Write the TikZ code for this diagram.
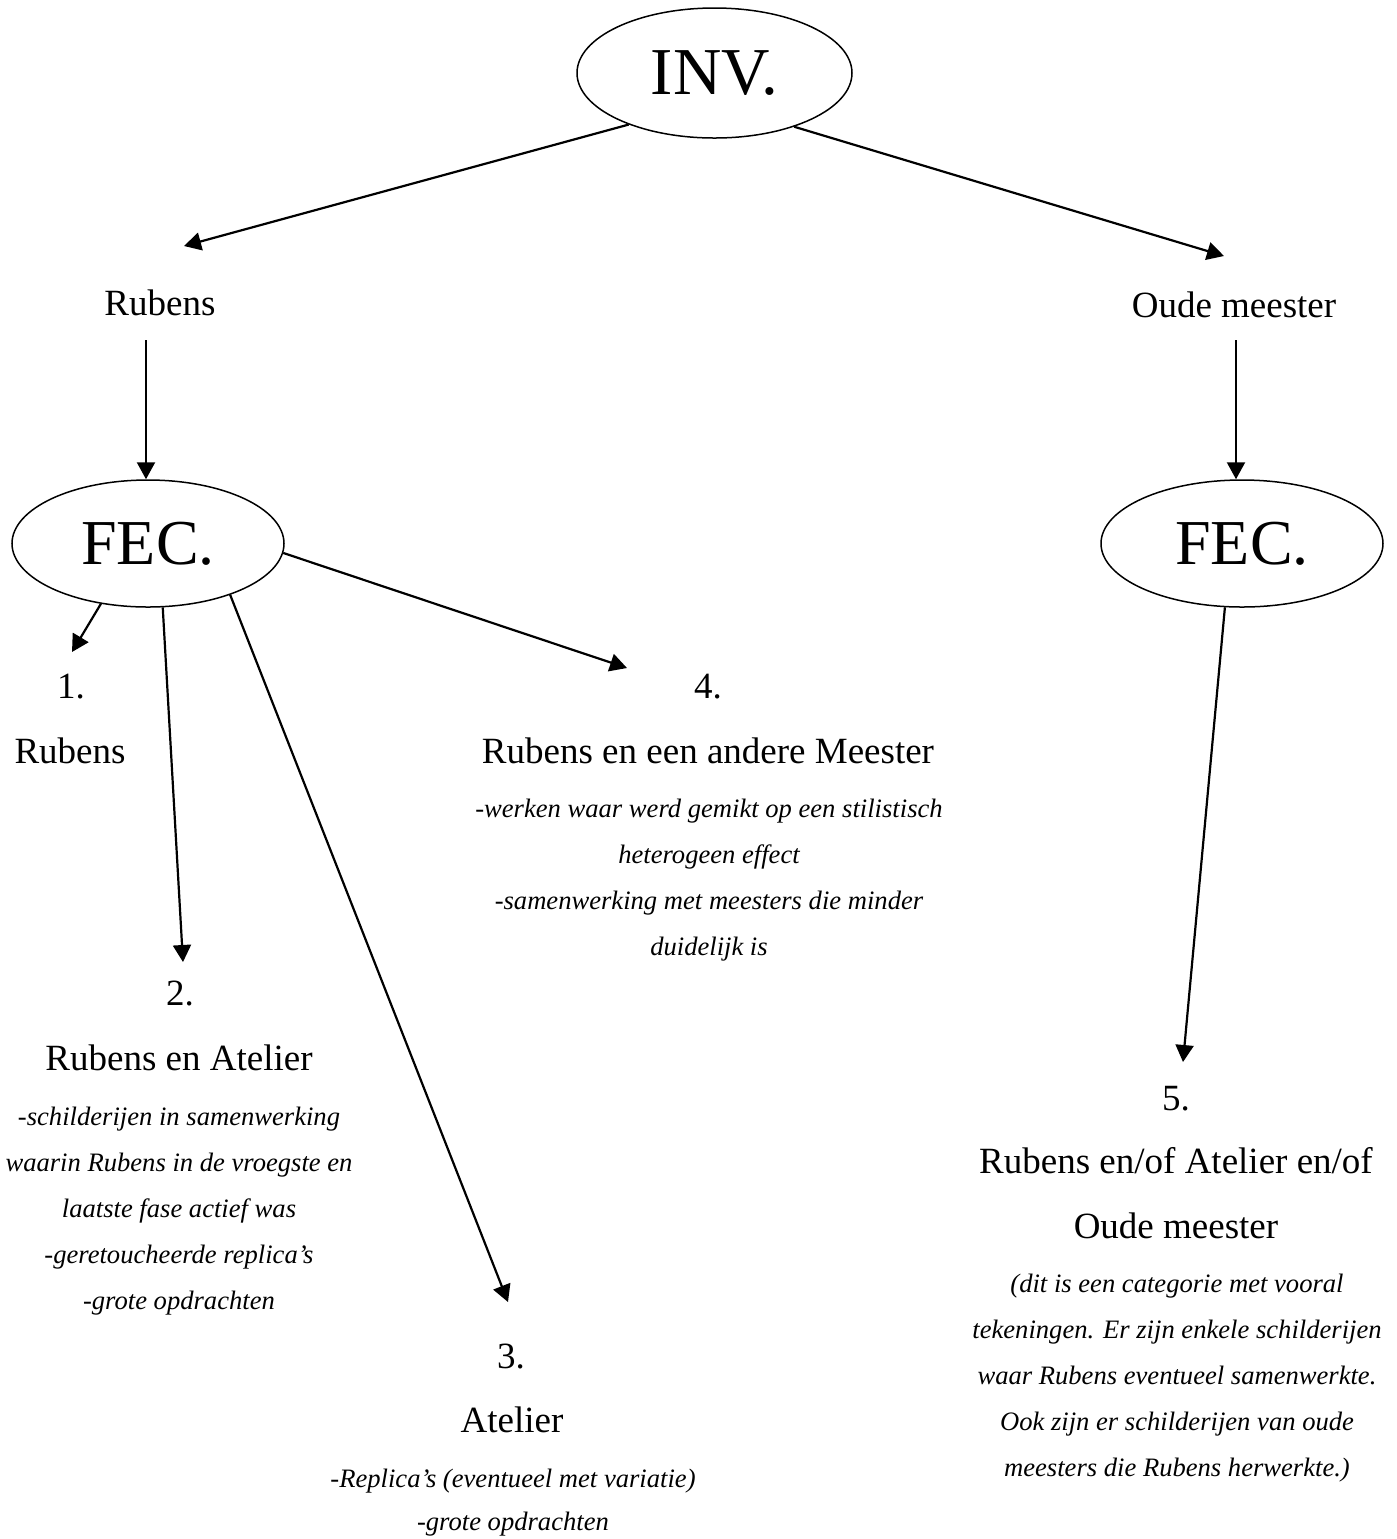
\documentclass[tikz,border=0pt]{standalone}
\usepackage{fontspec}
\setmainfont{Liberation Serif}
\usetikzlibrary{
  arrows.meta, % for the filled arrow tips
  shapes.geometric, % for the ellipse nodes
}

\tikzset{
  oval/.style={draw, ellipse, line width=0.75pt, inner sep=0pt,%
    minimum width=136pt, minimum height=63.5pt,%
    font=\fontsize{32}{38}\selectfont},
  arr/.style={-{Triangle[length=8.5pt,width=9pt]}, line width=1.1pt},
  lbl/.style={anchor=base, inner sep=0pt, align=center,%
    font=\fontsize{18.5}{32.5}\selectfont},
  note/.style={anchor=base, inner sep=0pt, align=center,%
    font=\fontsize{13.3}{23}\selectfont\itshape},
}

\begin{document}
\begin{tikzpicture}[x=0.5pt, y=-0.5pt]
  \useasboundingbox (0,0) rectangle (1397,1539);

  \node[oval, minimum width=137.5pt, minimum height=65pt,%
    font=\fontsize{33.5}{40}\selectfont] (inv) at (714.5,73) {INV.};
  \node[oval] (fecL) at (148,543.5) {FEC.};
  \node[oval, minimum width=141pt] (fecR) at (1242,543.5) {FEC.};

  \node[lbl] (rubens) at (160,315) {Rubens};
  \node[lbl] (oude) at (1234,317) {Oude meester};

  % categories (multi-line nodes sit on their last baseline)
  \node[lbl] (num1) at (71,698) {1.};
  \node[lbl] (cat1) at (70,763) {Rubens};

  \node[lbl] (num2) at (180,1005) {2.};
  \node[lbl] (cat2) at (179,1070) {Rubens en Atelier};
  \node[note] (note2) at (179,1309) {-schilderijen in samenwerking\\
    waarin Rubens in de vroegste en\\ laatste fase actief was\\
    -geretoucheerde replica's\\ -grote opdrachten};

  \node[lbl] (num3) at (511,1368) {3.};
  \node[lbl] (cat3) at (512,1432) {Atelier};
  \node[note, font=\fontsize{13.3}{21.5}\selectfont\itshape] (note3)
    at (513,1530) {-Replica's (eventueel met variatie)\\ -grote opdrachten};

  \node[lbl] (num4) at (708,698) {4.};
  \node[lbl] (cat4) at (708,763) {Rubens en een andere Meester};
  \node[note] (note4) at (709,955) {-werken waar werd gemikt op een stilistisch\\
    heterogeen effect\\ -samenwerking met meesters die minder\\ duidelijk is};

  \node[lbl] (num5) at (1176,1110) {5.};
  \node[lbl] (cat5) at (1176,1238) {Rubens en/of Atelier en/of\\ Oude meester};
  \node[note] (note5) at (1177,1476) {(dit is een categorie met vooral\\
    tekeningen. Er zijn enkele schilderijen\\ waar Rubens eventueel samenwerkte.\\
    Ook zijn er schilderijen van oude\\ meesters die Rubens herwerkte.)};

  % arrow ends
  \coordinate (rubensOut) at (146,340);
  \coordinate (oudeOut) at (1236,340);
  \coordinate (toRubens) at (184,246);
  \coordinate (toOude) at (1224,256);
  \coordinate (to1) at (72,652);
  \coordinate (to2) at (183,962);
  \coordinate (to3) at (508,1302);
  \coordinate (to4) at (627,668);
  \coordinate (to5) at (1183,1062);

  \draw[arr] (inv.211) -- (toRubens);
  \draw[arr] (inv.326) -- (toOude);
  \draw[arr] (rubensOut) -- (rubensOut |- fecL.north);
  \draw[arr] (oudeOut) -- (oudeOut |- fecR.north);
  \draw[arr] (fecL.232) -- (to1);
  \draw[arr] (fecL.283) -- (to2);
  \draw[arr] (fecL.328) -- (to3);
  \draw[arr] (fecL.356) -- (to4);
  \draw[arr] (fecR.255) -- (to5);
\end{tikzpicture}
\end{document}
